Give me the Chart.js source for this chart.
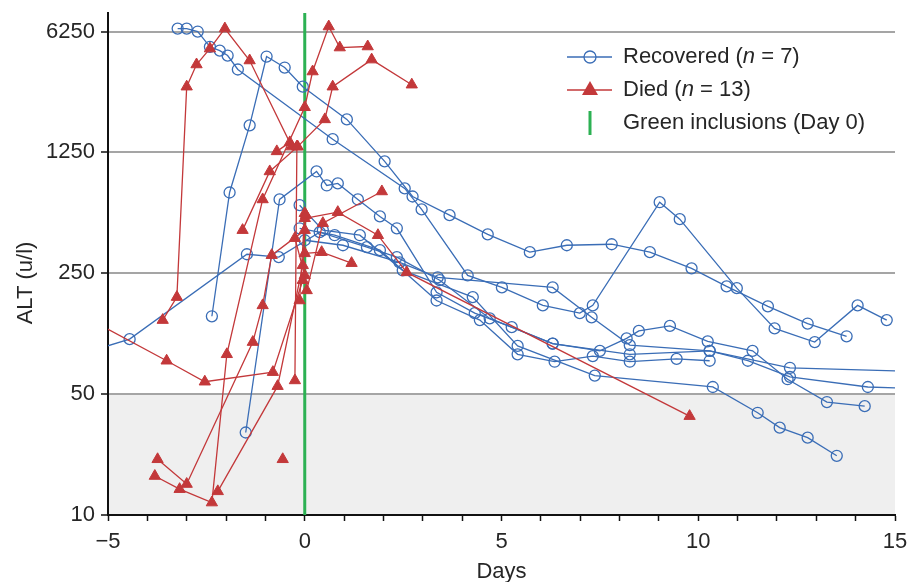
<!DOCTYPE html>
<html>
<head>
<meta charset="utf-8">
<script src="https://cdn.jsdelivr.net/npm/chart.js@4.4.1/dist/chart.umd.min.js"></script>
<style>
  html, body { margin: 0; padding: 0; background: #fff; }
  canvas { display: block; }
</style>
</head>
<body>
<canvas id="altChart" width="909" height="582"></canvas>
<script>
// ALT (u/l) per patient as [day, value]

// Recovered patients
const rec1 = [[-3.23, 6500], [-3.00, 6500], [-2.72, 6250], [-2.41, 5100], [-2.16, 4850], [-1.96, 4540], [-1.70, 3770], [0.71, 1490], [2.54, 774], [2.97, 585], [4.14, 243], [5.01, 207], [6.05, 163], [6.99, 147], [7.32, 163], [9.02, 644], [9.53, 514], [10.98, 205], [11.94, 120], [12.96, 100], [14.05, 163], [14.79, 134]];
const rec2 = [[-2.36, 141], [-1.91, 733], [-1.40, 1792], [-0.97, 4480], [-0.51, 3870], [-0.05, 3000], [1.07, 1940], [2.03, 1110], [2.74, 695], [3.68, 542], [4.65, 420], [5.72, 331], [6.66, 363], [7.80, 368], [8.77, 331], [9.83, 267], [10.72, 210], [11.77, 161], [12.78, 128], [13.77, 108]];
const rec3 = [[-5.35, 90], [-4.45, 104], [-1.47, 322], [-0.66, 310], [0.38, 432], [1.58, 354], [2.34, 310], [3.43, 228], [4.70, 137], [6.30, 98], [8.26, 85], [10.29, 89], [12.33, 71], [16.01, 67]];
const rec4 = [[-1.50, 30], [-0.64, 668], [0.30, 970], [0.56, 805], [0.84, 827], [1.35, 668], [1.91, 533], [2.34, 455], [3.35, 194], [4.32, 147], [5.26, 122], [6.30, 98], [7.50, 89], [8.18, 105], [8.49, 116], [9.28, 124], [10.24, 101], [11.38, 89], [12.27, 61], [13.27, 45], [14.23, 42.6]];
const rec5 = [[-0.13, 619], [0.46, 444], [1.40, 415], [2.49, 260], [4.27, 182], [5.41, 95], [7.37, 64], [10.37, 55], [11.51, 39], [12.07, 32], [12.78, 28], [13.52, 22]];
const rec6 = [[0.0, 388], [0.97, 363], [2.41, 289], [3.38, 237], [6.30, 207], [7.29, 139], [8.26, 96], [10.29, 89], [11.26, 78], [12.33, 63], [14.31, 55], [16.01, 53.5]];
const rec7 = [[-0.13, 455], [0.76, 415], [1.91, 340], [3.35, 174], [4.45, 134], [5.41, 85], [6.35, 77], [7.32, 83], [8.26, 77], [9.45, 80], [10.29, 78]];

// Patients who died
const died1 = [[-5.46, 135], [-3.51, 78], [-2.54, 59], [-0.81, 67], [-0.05, 228]];
const died2 = [[-3.61, 134], [-3.25, 182], [-3.00, 3000], [-2.75, 4030], [-2.41, 4980], [-2.03, 6500], [-1.40, 4250], [-0.33, 1350], [-0.20, 1350], [-0.25, 60]];
const died3 = [[-3.74, 21], [-3.00, 15.1], [-1.32, 100], [-1.07, 163], [-0.84, 318], [0.0, 444]];
const died4 = [[-3.81, 16.8], [-3.18, 14.1], [-2.36, 11.8], [-1.98, 85], [-1.07, 668], [0.0, 2280], [0.20, 3670], [0.61, 6680], [0.89, 5050], [1.60, 5120]];
const died5 = [[-2.21, 13.7], [-0.69, 55.6], [-0.05, 278], [0.03, 542]];
const died6 = [[-1.58, 444], [-0.89, 970], [-0.18, 1350], [0.51, 1940], [0.71, 3000], [1.70, 4300], [2.72, 3080]];
const died7 = [[-0.25, 399], [0.0, 243]];
const died8 = [[0.0, 326], [0.43, 331], [1.19, 286]];
const died9 = [[0.0, 520], [0.84, 564], [1.86, 415], [2.59, 253], [9.78, 37.3]];
const died10 = [[-0.56, 21]];
const died11 = [[0.05, 199], [0.46, 487], [1.96, 743]];
const died12 = [[-0.13, 174], [0.0, 556]];
const died13 = [[-0.71, 1267], [-0.38, 1428]];

const recovered = [rec1, rec2, rec3, rec4, rec5, rec6, rec7];
const died = [died1, died2, died3, died4, died5, died6, died7, died8, died9, died10, died11, died12, died13];

const yTicks = [10, 50, 250, 1250, 6250];
const xLabelEvery = 5;
const yMin = 10, yMax = 8000;
const normalLimit = 50;
const inclusionDay = 0;
const yTitle = 'ALT (u/l)';
const legendNames = ['Recovered', 'Died', 'Green inclusions (Day 0)'];
const legendCounts = [recovered.length, died.length];

const blue = '#3a6db6';
const red = '#c3383a';
const green = '#2cb153';
const txt = '#262626';
const fontSize = 22;

Chart.defaults.font.family = '"Liberation Sans", Arial, Helvetica, sans-serif';
Chart.defaults.font.size = fontSize;
Chart.defaults.color = txt;

function toPoints(rows) {
  return rows.map(r => ({ x: r[0], y: r[1] }));
}

const datasets = [];

// Day 0 marker
datasets.push({
  data: [{ x: inclusionDay, y: yMin }, { x: inclusionDay, y: yMax }],
  borderColor: green,
  borderWidth: 3,
  pointRadius: 0,
  order: 30
});

recovered.forEach(p => {
  datasets.push({
    data: toPoints(p),
    borderColor: blue,
    borderWidth: 1.3,
    pointStyle: 'circle',
    pointRadius: 5.5,
    pointBorderWidth: 1.3,
    pointBorderColor: blue,
    pointBackgroundColor: 'rgba(255,255,255,0)',
    order: 2
  });
});

died.forEach(p => {
  datasets.push({
    data: toPoints(p),
    borderColor: red,
    borderWidth: 1.3,
    pointStyle: 'triangle',
    pointRadius: 6.5,
    pointBorderWidth: 1,
    pointBorderColor: red,
    pointBackgroundColor: red,
    order: 1
  });
});

// grey band under the normal limit
const shadePlugin = {
  id: 'shade',
  beforeDraw(chart) {
    const { ctx, chartArea } = chart;
    const y = chart.scales.y.getPixelForValue(normalLimit);
    ctx.save();
    ctx.fillStyle = '#efefef';
    ctx.fillRect(chartArea.left, y, chartArea.right - chartArea.left, chartArea.bottom - y);
    ctx.restore();
  }
};

// legend with line + marker symbols and italic n, plus the y title
const legendPlugin = {
  id: 'altLegend',
  afterDraw(chart) {
    const ctx = chart.ctx;
    const x0 = 567, x1 = 612, mx = 590, tx = 623;
    const rows = [57, 90, 123];
    ctx.save();

    ctx.strokeStyle = blue;
    ctx.lineWidth = 1.3;
    ctx.beginPath(); ctx.moveTo(x0, rows[0]); ctx.lineTo(x1, rows[0]); ctx.stroke();
    ctx.beginPath(); ctx.arc(mx, rows[0], 6, 0, Math.PI * 2); ctx.fillStyle = '#fff'; ctx.fill(); ctx.stroke();
    ctx.beginPath(); ctx.moveTo(mx - 6, rows[0]); ctx.lineTo(mx + 6, rows[0]); ctx.stroke();

    ctx.strokeStyle = red;
    ctx.fillStyle = red;
    ctx.beginPath(); ctx.moveTo(x0, rows[1]); ctx.lineTo(x1, rows[1]); ctx.stroke();
    ctx.beginPath();
    ctx.moveTo(mx, rows[1] - 9); ctx.lineTo(mx + 8, rows[1] + 5); ctx.lineTo(mx - 8, rows[1] + 5);
    ctx.closePath(); ctx.fill();

    ctx.strokeStyle = green;
    ctx.lineWidth = 3;
    ctx.beginPath(); ctx.moveTo(mx, rows[2] - 12); ctx.lineTo(mx, rows[2] + 12); ctx.stroke();

    const fam = Chart.defaults.font.family;
    const normal = fontSize + 'px ' + fam;
    const italic = 'italic ' + fontSize + 'px ' + fam;
    ctx.fillStyle = txt;
    ctx.textBaseline = 'middle';
    ctx.textAlign = 'left';
    for (let i = 0; i < 2; i++) {
      let x = tx;
      const parts = [[legendNames[i] + ' (', normal], ['n', italic], [' = ' + legendCounts[i] + ')', normal]];
      parts.forEach(([s, f]) => {
        ctx.font = f;
        ctx.fillText(s, x, rows[i]);
        x += ctx.measureText(s).width;
      });
    }
    ctx.font = normal;
    ctx.fillText(legendNames[2], tx, rows[2]);

    // y axis title sits a little below the middle of the axis in the original
    ctx.translate(26, 283);
    ctx.rotate(-Math.PI / 2);
    ctx.textAlign = 'center';
    ctx.fillText(yTitle, 0, 0);
    ctx.restore();
  }
};

new Chart(document.getElementById('altChart'), {
  type: 'line',
  data: { datasets: datasets },
  plugins: [shadePlugin, legendPlugin],
  options: {
    responsive: false,
    animation: false,
    devicePixelRatio: 1,
    layout: { padding: { top: 13, right: 14, left: 0, bottom: 0 } },
    elements: { line: { tension: 0 } },
    plugins: { legend: { display: false }, tooltip: { enabled: false } },
    scales: {
      x: {
        type: 'linear',
        min: -5,
        max: 15,
        afterFit(scale) {
          scale.height = 67;
          scale.paddingLeft = 0;
          scale.paddingRight = 0;
        },
        ticks: {
          stepSize: 1,
          autoSkip: false,
          maxRotation: 0,
          padding: 8,
          color: txt,
          callback: v => (v % xLabelEvery === 0 ? (v < 0 ? '\u2212' + Math.abs(v) : String(v)) : '')
        },
        grid: { drawOnChartArea: false, tickLength: 6, tickColor: '#111', tickWidth: 1.5 },
        border: { display: true, color: '#111', width: 2 },
        title: { display: true, text: 'Days', color: txt, padding: { top: 0, bottom: -3 } }
      },
      y: {
        type: 'logarithmic',
        min: yMin,
        max: yMax,
        afterFit(scale) {
          scale.width = 108;
          scale.paddingTop = 0;
          scale.paddingBottom = 0;
        },
        afterBuildTicks(scale) { scale.ticks = yTicks.map(v => ({ value: v })); },
        ticks: { padding: 6, color: txt, callback: v => String(v) },
        grid: {
          color: c => (c.tick && c.tick.value === yMin ? 'rgba(0,0,0,0)' : '#a5a5a5'),
          lineWidth: 2,
          tickLength: 7,
          tickColor: '#111',
          tickWidth: 1.5
        },
        border: { display: true, color: '#111', width: 2 },
        title: { display: false }
      }
    }
  }
});
</script>
</body>
</html>
